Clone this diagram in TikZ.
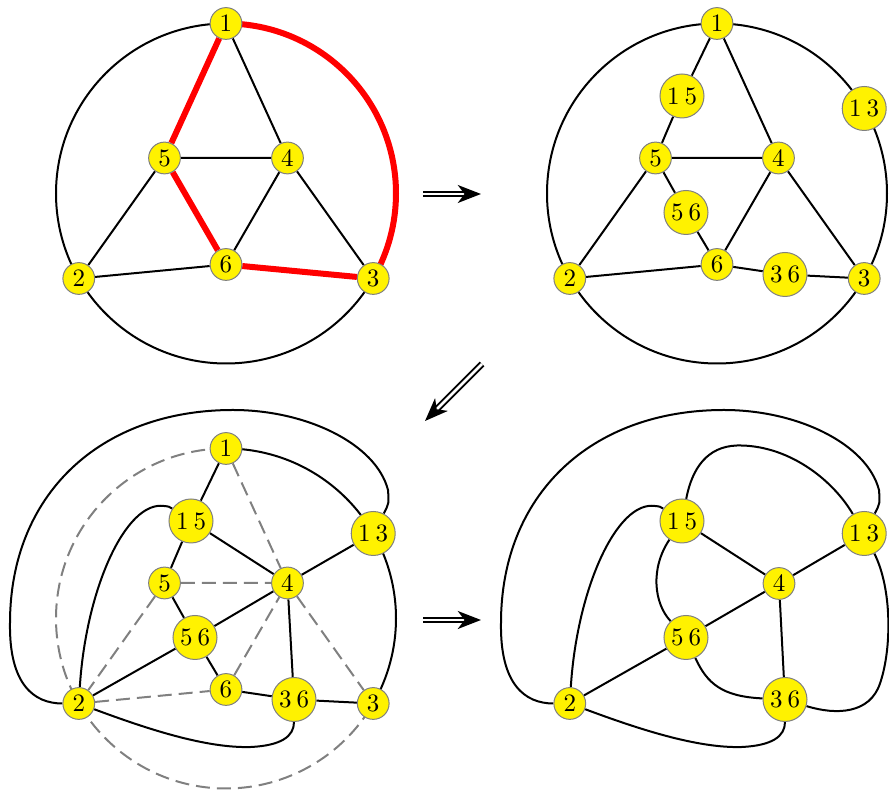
\documentclass[tikz,border=0pt]{standalone}
\usetikzlibrary{arrows.meta,backgrounds}
\begin{document}
\begin{tikzpicture}[x=0.4pt,y=0.4pt,
  vtx/.style={circle,fill=yellow,draw=gray,line width=0.4pt,inner sep=0pt,minimum size=12.7pt},
  big/.style={vtx,minimum size=17.6pt},
  edge/.style={line width=0.8pt},
  redge/.style={red,line width=2.4pt},
  dedge/.style={gray,line width=0.8pt,dash pattern=on 5.6pt off 2.8pt},
  imp/.style={double,double distance=1pt,line width=0.8pt,-{Stealth[length=9.3pt,width=7.2pt,inset=2.7pt]}}]
\useasboundingbox (0,0) rectangle (889,-791);
% ---------- panel 1 ----------
\begin{scope}[shift={(226,-193.5)}]
  \node[vtx] (a1) at (90:170) {1};
  \node[vtx] (a2) at (210:170) {2};
  \node[vtx] (a3) at (330:170) {3};
  \node[vtx] (a4) at (30:71) {4};
  \node[vtx] (a5) at (150:71) {5};
  \node[vtx] (a6) at (270:71) {6};
  \begin{scope}[on background layer]
    \draw[edge] (0,0) circle[radius=170];
    \draw[redge] (90:170) arc[start angle=90,end angle=-30,radius=170];
    \draw[edge] (a1)--(a4) (a5)--(a4) (a5)--(a2) (a4)--(a6) (a4)--(a3) (a2)--(a6);
    \draw[redge] (a1)--(a5) (a5)--(a6) (a6)--(a3);
  \end{scope}
\end{scope}
% ---------- panel 2 ----------
\begin{scope}[shift={(717,-193.5)}]
  \node[vtx] (b1) at (90:170) {1};
  \node[vtx] (b2) at (210:170) {2};
  \node[vtx] (b3) at (330:170) {3};
  \node[vtx] (b4) at (30:71) {4};
  \node[vtx] (b5) at (150:71) {5};
  \node[vtx] (b6) at (270:71) {6};
  \node[big] (b15) at (-35,97.5) {1\kern2pt5};
  \node[big] (b13) at (30:170) {1\kern2pt3};
  \node[big] (b56) at (-31,-19) {5\kern2pt6};
  \node[big] (b36) at (68,-81) {3\kern2pt6};
  \begin{scope}[on background layer]
    \draw[edge] (0,0) circle[radius=170];
    \draw[edge] (b1)--(b15) (b15)--(b5) (b1)--(b4) (b5)--(b4) (b5)--(b2)
      (b5)--(b56) (b56)--(b6) (b4)--(b6) (b4)--(b3) (b2)--(b6) (b6)--(b36) (b36)--(b3);
  \end{scope}
\end{scope}
% ---------- panel 3 ----------
\begin{scope}[shift={(226,-618.5)}]
  \node[vtx] (c1) at (90:170) {1};
  \node[vtx] (c2) at (210:170) {2};
  \node[vtx] (c3) at (330:170) {3};
  \node[vtx] (c4) at (30:71) {4};
  \node[vtx] (c5) at (150:71) {5};
  \node[vtx] (c6) at (270:71) {6};
  \node[big] (c15) at (-35,97.5) {1\kern2pt5};
  \node[big] (c13) at (30:170) {1\kern2pt3};
  \node[big] (c56) at (-31,-19) {5\kern2pt6};
  \node[big] (c36) at (68,-81) {3\kern2pt6};
  \begin{scope}[on background layer]
    \draw[dedge] (90:170) arc[start angle=90,end angle=330,radius=170];
    \draw[edge] (90:170) arc[start angle=90,end angle=-30,radius=170];
    \draw[dedge] (c1)--(c4) (c5)--(c4) (c5)--(c2) (c2)--(c6) (c6)--(c4) (c4)--(c3);
    \draw[edge] (c1)--(c15) (c15)--(c5) (c15)--(c4) (c5)--(c56) (c56)--(c6) (c56)--(c4)
      (c56)--(c2) (c4)--(c13) (c4)--(c36) (c6)--(c36) (c36)--(c3);
    \draw[edge] (c2) .. controls (-192,-85) and (-217,-66) .. (-216,-4.5)
      .. controls (-216,123) and (-127,208.5) .. (7,208.5)
      .. controls (80,208.5) and (150,175) .. (162,128.5)
      .. controls (163,115) .. (c13);
    \draw[edge] (c2) .. controls (-140,30) and (-100,118) .. (-62,112.5)
      .. controls (-57,112) .. (c15);
    \draw[edge] (c2) .. controls (-80,-110) and (-20,-130) .. (25,-128.5)
      .. controls (55,-127) and (68,-118) .. (c36);
  \end{scope}
\end{scope}
% ---------- panel 4 ----------
\begin{scope}[shift={(717,-618.5)}]
  \node[vtx] (d2) at (210:170) {2};
  \node[vtx] (d4) at (62,35) {4};
  \node[big] (d15) at (-35,97.5) {1\kern2pt5};
  \node[big] (d13) at (30:170) {1\kern2pt3};
  \node[big] (d56) at (-31,-19) {5\kern2pt6};
  \node[big] (d36) at (68,-81) {3\kern2pt6};
  \begin{scope}[on background layer]
    \draw[edge] (d15)--(d4) (d4)--(d13) (d4)--(d56) (d4)--(d36) (d56)--(d2);
    \draw[edge] (d2) .. controls (-192,-85) and (-217,-66) .. (-216,-4.5)
      .. controls (-216,123) and (-127,208.5) .. (7,208.5)
      .. controls (80,208.5) and (150,175) .. (162,128.5)
      .. controls (163,115) .. (d13);
    \draw[edge] (d2) .. controls (-140,30) and (-100,118) .. (-62,112.5)
      .. controls (-57,112) .. (d15);
    \draw[edge] (d2) .. controls (-80,-110) and (-20,-130) .. (25,-128.5)
      .. controls (55,-127) and (68,-118) .. (d36);
    \draw[edge] (d15) .. controls (-25,150) and (-10,172) .. (20,173)
      .. controls (70,174) and (115,140) .. (d13);
    \draw[edge] (d15) .. controls (-67,50) and (-63,15) .. (d56);
    \draw[edge] (d56) .. controls (-10,-65) and (5,-78) .. (d36);
    \draw[edge] (d13) .. controls (175,30) and (175,-30) .. (163,-65)
      .. controls (153,-95) and (120,-97) .. (d36);
  \end{scope}
\end{scope}
% ---------- arrows ----------
\draw[imp] (423,-194) -- (481,-194);
\draw[imp] (482,-364) -- (425,-421);
\draw[imp] (423,-620) -- (481,-620);
\end{tikzpicture}
\end{document}
